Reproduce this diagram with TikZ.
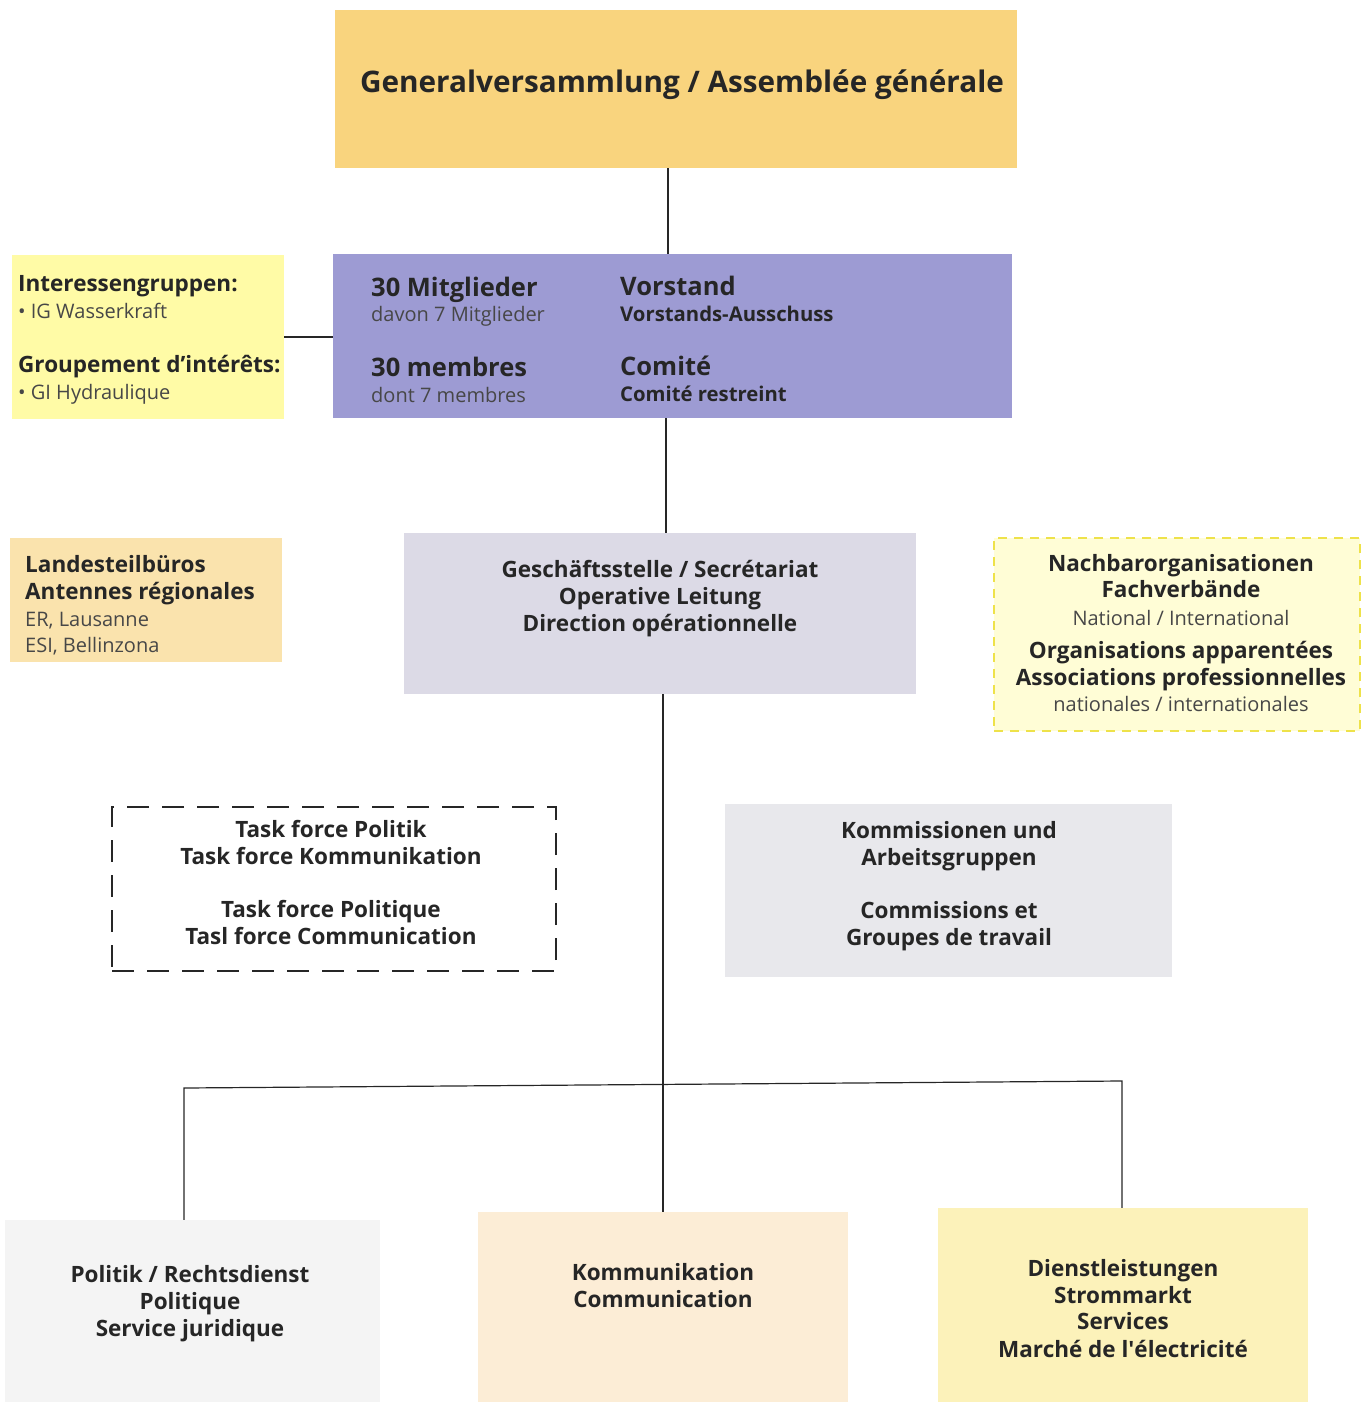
\documentclass[tikz,border=0pt]{standalone}
\usepackage{fontspec}
\setmainfont{Open Sans}
\usetikzlibrary{fit}
\definecolor{tc}{HTML}{262626}
\definecolor{cga}{HTML}{F9D47E}
\definecolor{cvs}{HTML}{9D9BD3}
\definecolor{cig}{HTML}{FFFBA6}
\definecolor{clb}{HTML}{FAE3AD}
\definecolor{cgs}{HTML}{DCDAE6}
\definecolor{cnb}{HTML}{FFFDD6}
\definecolor{cnbd}{HTML}{EEE24A}
\definecolor{cko}{HTML}{E8E8EC}
\definecolor{cpol}{HTML}{F4F4F4}
\definecolor{ckom}{HTML}{FCEDD6}
\definecolor{cdl}{HTML}{FCF2BA}
\tikzset{
  box/.style={inner sep=0pt, draw=none},
  t/.style={inner sep=0pt, text=tc, anchor=base},
  tl/.style={inner sep=0pt, text=tc, anchor=base west},
  hb/.style={font=\fontsize{22.5}{26}\selectfont\bfseries},
  hr/.style={font=\fontsize{20}{24}\selectfont, text=tc!85},
  pb/.style={font=\fontsize{25.5}{30}\selectfont\bfseries},
  ps/.style={font=\fontsize{20.3}{24}\selectfont\bfseries},
  link/.style={draw=black!85, line width=1.2pt},
}
\begin{document}
\begin{tikzpicture}[x=1pt,y=-1pt]
\useasboundingbox (0,0) rectangle (1365,1402);
% boxes
\node[box, fill=cga, fit={(335,10) (1017,168)}] (ga) {};
\node[box, fill=cvs, fit={(333,254) (1012,418)}] (vs) {};
\node[box, fill=cig, fit={(12,255) (284,419)}] (ig) {};
\node[box, fill=clb, fit={(10,538) (282,662)}] (lb) {};
\node[box, fill=cgs, fit={(404,533) (916,694)}] (gs) {};
\node[box, fill=cnb, draw=cnbd, line width=1.2pt, dash pattern=on 9pt off 7pt, fit={(994,538) (1360,731)}] (nb) {};
\node[box, draw=black!85, line width=2pt, dash pattern=on 22pt off 13pt, fit={(112,807) (556,971)}] (tf) {};
\node[box, fill=cko, fit={(725,804) (1172,977)}] (ko) {};
\node[box, fill=cpol, fit={(5,1220) (380,1402)}] (pol) {};
\node[box, fill=ckom, fit={(478,1212) (848,1402)}] (kom) {};
\node[box, fill=cdl, fit={(938,1208) (1308,1402)}] (dl) {};
% connectors
\coordinate (xa) at (668,0);
\coordinate (xb) at (666,0);
\coordinate (xc) at (663,0);
\coordinate (bl) at (184,1088);
\coordinate (br) at (1122,1081);
\draw[link] (xa |- ga.south) -- (xa |- vs.north);
\draw[link] (ig.east) -- (vs.west |- ig.east);
\draw[link] (xb |- vs.south) -- (xb |- gs.north);
\draw[link] (xc |- gs.south) -- (xc |- kom.north);
\draw[link] (bl |- pol.north) -- (bl) -- (br) -- (br |- dl.north);
% texts
\node[t, font=\fontsize{29.7}{36}\selectfont\bfseries] (tga) at (682,93) {Generalversammlung / Assemblée générale};
% Vorstand
\node[tl, pb] (v1) at (371,296) {30 Mitglieder};
\node[tl, hr] (v2) at (371,321) {davon 7 Mitglieder};
\node[tl, pb] (v3) at (371,376) {30 membres};
\node[tl, hr] (v4) at (371,402) {dont 7 membres};
\node[tl, pb] (v5) at (620,295) {Vorstand};
\node[tl, ps] (v6) at (620,321) {Vorstands-Ausschuss};
\node[tl, pb] (v7) at (620,375) {Comité};
\node[tl, ps] (v8) at (620,401) {Comité restreint};
% Interessengruppen
\node[tl, hb] (i1) at (18,291) {Interessengruppen:};
\node[tl, hr] (i2) at (18,318) {• IG Wasserkraft};
\node[tl, hb] (i3) at (18,372) {Groupement d’intérêts:};
\node[tl, hr] (i4) at (18,399) {• GI Hydraulique};
% Landesteilbueros
\node[tl, hb] (l1) at (25,572) {Landesteilbüros};
\node[tl, hb] (l2) at (25,599) {Antennes régionales};
\node[tl, hr] (l3) at (25,626) {ER, Lausanne};
\node[tl, hr] (l4) at (25,652) {ESI, Bellinzona};
% Geschaeftsstelle
\node[t, hb] (g1) at (660,577) {Geschäftsstelle / Secrétariat};
\node[t, hb] (g2) at (660,604) {Operative Leitung};
\node[t, hb] (g3) at (660,631) {Direction opérationnelle};
% Nachbar
\node[t, hb] (n1) at (1181,571) {Nachbarorganisationen};
\node[t, hb] (n2) at (1181,597) {Fachverbände};
\node[t, hr] (n3) at (1181,625) {National / International};
\node[t, hb] (n4) at (1181,658) {Organisations apparentées};
\node[t, hb] (n5) at (1181,685) {Associations professionnelles};
\node[t, hr] (n6) at (1181,711) {nationales / internationales};
% Task force
\node[t, hb] (f1) at (331,837) {Task force Politik};
\node[t, hb] (f2) at (331,864) {Task force Kommunikation};
\node[t, hb] (f3) at (331,917) {Task force Politique};
\node[t, hb] (f4) at (331,944) {Tasl force Communication};
% Kommissionen
\node[t, hb] (k1) at (949,838) {Kommissionen und};
\node[t, hb] (k2) at (949,865) {Arbeitsgruppen};
\node[t, hb] (k3) at (949,918) {Commissions et};
\node[t, hb] (k4) at (949,945) {Groupes de travail};
% bottom
\node[t, hb] (p1) at (190,1282) {Politik / Rechtsdienst};
\node[t, hb] (p2) at (190,1309) {Politique};
\node[t, hb] (p3) at (190,1336) {Service juridique};
\node[t, hb] (c1) at (663,1280) {Kommunikation};
\node[t, hb] (c2) at (663,1307) {Communication};
\node[t, hb] (d1) at (1123,1276) {Dienstleistungen};
\node[t, hb] (d2) at (1123,1303) {Strommarkt};
\node[t, hb] (d3) at (1123,1329) {Services};
\node[t, hb] (d4) at (1123,1357) {Marché de l\textquotesingle électricité};
\end{tikzpicture}
\end{document}
